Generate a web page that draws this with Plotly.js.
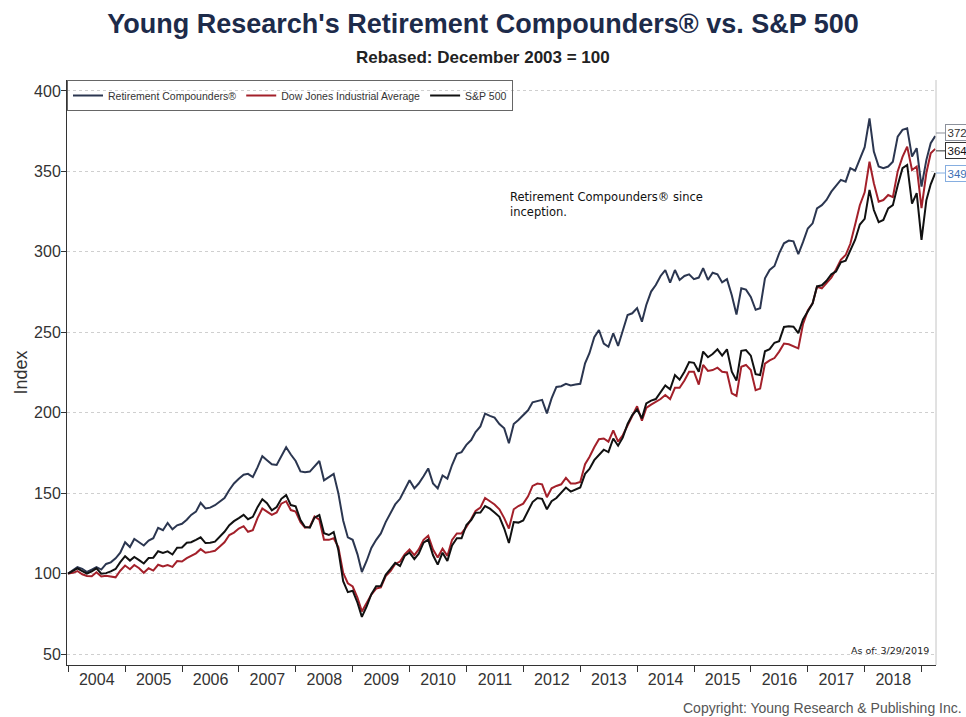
<!DOCTYPE html>
<html>
<head>
<meta charset="utf-8">
<script src="https://cdn.plot.ly/plotly-3.0.1.min.js"></script>
<style>html,body{margin:0;padding:0;background:#fff;}#chart{width:966px;height:717px;}</style>
</head>
<body>
<div id="chart"></div>
<script>
// ---- data (monthly, rebased Dec 2003 = 100) ----
const seriesNames = ["Retirement Compounders®", "Dow Jones Industrial Average", "S&P 500"];
const firstMonthYear = 2003, firstMonthIndex = 11; // December 2003
const asOfDate = "2019-03-29";
const yTickValues = [50, 100, 150, 200, 250, 300, 350, 400];

const retirementCompounders = [
  100,
  102, 104, 103, 101, 102.5, 104, 102.5, 106, 107, 109.5, 113, 119.5,
  116.5, 121.5, 119.5, 117.5, 120.5, 122, 128.5, 127, 131.5, 127.5, 130, 131,
  133.5, 136.5, 138.5, 144, 140.5, 141, 142.5, 145, 147, 152, 156, 159,
  161.5, 162, 160, 166, 173, 170.5, 168, 167.5, 173, 178.5, 174, 170,
  163.5, 163, 163.4, 167, 170, 158, 160, 162, 150, 133, 122.5, 121,
  112, 101, 108, 116, 121, 125, 132, 138, 143, 146.5, 152.5, 158,
  153, 156, 160.5, 165.4, 156, 153, 161, 159, 167.5, 174.5, 175.5, 180,
  183, 188, 191.5, 199.5, 198, 197, 193, 190.3, 181, 193, 195.5, 198.5,
  201.5, 206.5, 207.5, 208, 199.6, 208.9, 216, 216.5, 218, 217, 217.5, 218,
  230.7, 237, 247, 251.4, 243, 241, 249.4, 241.5, 251, 260.7, 261.8, 265,
  256.6, 267, 275.3, 279.4, 285, 288.7, 280.8, 288.7, 282.5, 285, 286, 283,
  284, 289.8, 282.5, 287, 286, 281, 283, 273, 261, 277.3, 276.5, 272,
  264, 265, 283.5, 288.7, 291.2, 299, 305.3, 307, 306.5, 298.5, 306, 314.5,
  317.7, 327, 329, 332.2, 337.4, 341, 344.7, 343.6, 352, 350.5, 358, 365,
  383, 362.3, 353, 352, 353, 356, 371.6, 375.8, 376.8, 359.2, 364.4, 340.5,
  357, 367.5, 372
];

const dowJones = [
  100,
  100.5, 101.6, 99.6, 98.5, 98.3, 100.8, 98.2, 98.7, 98.0, 97.7, 101.8, 105.0,
  102.7, 105.4, 103.3, 100.5, 103.3, 101.9, 105.5, 104.4, 105.3, 104.2, 107.8, 107.5,
  109.6, 111.2, 112.6, 115.2, 113.0, 113.5, 114.2, 116.8, 119.5, 124.0, 125.5, 128.0,
  129.5, 126.0, 127.0, 134.5, 140.5, 138.5, 136.5, 138.0, 143.5, 145.0, 139.5, 138.5,
  132.0, 128.5, 129.0, 135.5, 133.5, 121.0, 121.0, 122.0, 116.5, 100.5, 94.0, 92.0,
  85.0, 76.5, 81.5, 87.0, 90.7, 91.5, 98.5, 101.5, 106.0, 107.5, 112.0, 115.0,
  111.5, 115.0, 121.0, 123.5, 115.0, 110.0, 115.5, 111.0, 121.0, 125.0, 125.0, 129.0,
  134.0, 139.0, 141.0, 147.0, 145.0, 143.0, 140.0, 134.5, 128.0, 140.0, 142.0, 143.5,
  148.0, 154.5, 156.0, 155.5, 147.5, 153.0, 154.5, 155.5, 159.5, 156.0, 156.0, 157.0,
  168.0, 172.5, 178.5, 183.5, 184.0, 182.0, 189.0, 182.0, 186.0, 192.0, 198.5, 204.0,
  195.0, 203.0, 205.0, 206.5, 208.5, 211.0, 208.5, 215.5, 215.5, 220.0, 225.5, 225.5,
  217.5, 229.7, 226.0, 226.5, 228.0, 225.5, 225.0, 212.0, 210.4, 228.6, 229.7, 226.5,
  214.0, 215.0, 230.5, 232.5, 234.0, 238.0, 243.0, 242.5, 241.5, 240.0, 255.0, 263.5,
  268.0, 278.3, 277.3, 280.4, 284.0, 289.0, 295.0, 298.0, 305.0, 317.0, 329.0, 337.0,
  356.0, 342.6, 331.2, 332.2, 335.3, 334.0, 350.0, 359.0, 365.4, 350.9, 353.0, 327.1,
  349.0, 361.3, 364.0
];

const sp500 = [
  100,
  101.8, 103.2, 101.6, 100.0, 101.4, 103.3, 99.9, 100.3, 101.4, 102.9, 107.1, 110.8,
  108.1, 110.4, 108.4, 106.3, 109.7, 109.9, 113.9, 112.9, 113.8, 111.9, 116.1, 116.2,
  119.2, 119.5, 121.0, 122.6, 119.0, 119.2, 119.9, 122.8, 126.0, 130.1, 132.6, 134.5,
  136.5, 133.8, 135.3, 141.3, 146.2, 143.8, 139.3, 141.4, 146.5, 148.8, 142.6, 141.8,
  133.3, 129.0, 128.5, 134.8, 136.5, 125.1, 124.0, 125.8, 114.6, 95.3, 88.5, 89.4,
  81.9, 73.1, 79.6, 87.2, 92.1, 92.3, 99.3, 102.9, 106.7, 104.7, 111.0, 113.1,
  109.0, 112.4, 119.2, 121.1, 111.4, 105.6, 113.0, 107.9, 117.5, 122.0, 122.0, 130.2,
  133.3, 137.8, 137.9, 142.0, 140.4, 138.0, 135.3, 128.0, 119.0, 132.0, 131.7, 133.0,
  139.0, 144.5, 147.0, 146.5, 140.0, 145.0, 147.0, 150.0, 153.5, 151.0, 152.0, 153.5,
  162.0, 165.0, 170.5, 173.5, 177.0, 175.5, 184.0, 179.5, 184.5, 193.0, 198.5, 202.0,
  196.5, 205.8, 207.5, 208.5, 212.5, 217.0, 214.5, 223.4, 220.5, 225.5, 231.5, 231.0,
  225.5, 238.0, 234.5, 236.5, 239.4, 235.5, 239.4, 225.5, 220.0, 238.5, 239.0, 235.5,
  224.0, 223.4, 238.2, 239.5, 243.5, 244.5, 253.3, 253.8, 253.5, 249.5, 258.0, 263.0,
  268.0, 278.5, 279.2, 282.0, 286.0, 287.8, 293.5, 294.5, 300.8, 307.5, 317.0, 320.5,
  338.5, 326.0, 318.5, 319.8, 327.0, 329.0, 341.2, 352.0, 354.0, 330.0, 336.5, 307.4,
  332.0, 342.0, 349.0
];

// ---- month-end dates for each observation ----
function monthEndDates(n) {
  const out = [];
  for (let i = 0; i < n; i++) {
    const d = new Date(Date.UTC(firstMonthYear, firstMonthIndex + i + 1, 0));
    out.push(d.toISOString().slice(0, 10));
  }
  out[n - 1] = asOfDate;
  return out;
}
const dates = monthEndDates(sp500.length);

const colors = ["#2b3650", "#a3202a", "#111111"];
const allSeries = [retirementCompounders, dowJones, sp500];

const traces = allSeries.map((ys, k) => ({
  type: "scatter", mode: "lines", name: seriesNames[k],
  x: dates, y: ys,
  line: { color: colors[k], width: 2 },
  hoverinfo: "skip"
}));

const sans = '"Liberation Sans", Arial, sans-serif';
const verdana = '"DejaVu Sans", Verdana, sans-serif';

const endLabelStyle = [
  { border: "#8c919b", color: "#333333", yshift: 3 },
  { border: "#333333", color: "#111111", yshift: -2 },
  { border: "#86aee0", color: "#3c70b4", yshift: 0 }
];
const endLabels = allSeries.map((ys, k) => {
  const v = ys[ys.length - 1];
  return {
    xref: "paper", x: 1, yref: "y", y: v, yshift: endLabelStyle[k].yshift,
    text: String(Math.round(v)), showarrow: true, arrowhead: 0, arrowwidth: 1,
    arrowcolor: endLabelStyle[k].border, ax: 9, ay: 0, xanchor: "left",
    font: { family: sans, size: 11.5, color: endLabelStyle[k].color },
    bordercolor: endLabelStyle[k].border, borderwidth: 1, borderpad: 1.5, bgcolor: "#ffffff"
  };
});

const layout = {
  width: 966, height: 717,
  margin: { l: 67, r: 30, t: 80, b: 52 },
  paper_bgcolor: "#ffffff", plot_bgcolor: "#ffffff",
  font: { family: sans, color: "#333333" },
  title: {
    text: "<b>Young Research's Retirement Compounders® vs. S&P 500</b>",
    font: { family: sans, size: 27, color: "#1d2b4a" },
    x: 0.5, xref: "container", xanchor: "center",
    y: 1 - 24 / 717, yref: "container", yanchor: "middle"
  },
  showlegend: true,
  legend: {
    orientation: "h", x: 0, xanchor: "left", y: 1, yanchor: "top",
    bgcolor: "rgba(0,0,0,0)", bordercolor: "#666666", borderwidth: 1,
    font: { family: sans, size: 10.5, color: "#333333" },
    itemwidth: 30, traceorder: "normal"
  },
  xaxis: {
    type: "date", range: ["2003-12-24", "2019-04-03"],
    tick0: "2004-01-01", dtick: "M12", ticklabelmode: "period", tickformat: "%Y",
    ticks: "outside", ticklen: 6, tickcolor: "#333333",
    ticklabelstandoff: -6,
    showline: true, linecolor: "#333333", linewidth: 1,
    showgrid: false, zeroline: false,
    tickfont: { family: sans, size: 16, color: "#333333" }
  },
  yaxis: {
    range: [43.2, 406.8], tickvals: yTickValues,
    ticks: "outside", ticklen: 5, tickcolor: "#333333",
    ticklabelstandoff: -3,
    showline: true, linecolor: "#333333", linewidth: 1,
    showgrid: true, gridcolor: "#cfcfcf", griddash: "dot", gridwidth: 1,
    zeroline: false,
    tickfont: { family: sans, size: 16, color: "#333333" },
    title: { text: "Index", font: { family: sans, size: 18, color: "#333333" }, standoff: 1 }
  },
  shapes: [
    { type: "line", xref: "paper", yref: "paper", x0: 1, x1: 1, y0: 0, y1: 1,
      line: { color: "#c4c4c4", width: 1 } }
  ],
  annotations: [
    { xref: "paper", yref: "paper", x: (483 - 67) / 869, y: (665 - 58) / 585,
      xanchor: "center", yanchor: "middle", showarrow: false,
      text: "<b>Rebased: December 2003 = 100</b>",
      font: { family: sans, size: 17, color: "#222222" } },
    { xref: "paper", yref: "paper", x: (508 - 67) / 869, y: (665 - 188) / 585,
      xanchor: "left", yanchor: "top", align: "left", showarrow: false,
      text: "Retirement Compounders® since<br>inception.",
      font: { family: verdana, size: 11.5, color: "#111111" } },
    { xref: "paper", yref: "paper", x: (931 - 67) / 869, y: (665 - 650) / 585,
      xanchor: "right", yanchor: "middle", showarrow: false,
      text: "As of: 3/29/2019",
      font: { family: verdana, size: 9.5, color: "#222222" } },
    { xref: "paper", yref: "paper", x: (964 - 67) / 869, y: (665 - 708) / 585,
      xanchor: "right", yanchor: "middle", showarrow: false,
      text: "Copyright: Young Research & Publishing Inc.",
      font: { family: sans, size: 14, color: "#555555" } }
  ].concat(endLabels)
};

Plotly.newPlot("chart", traces, layout, { displayModeBar: false, staticPlot: true });
</script>
</body>
</html>
